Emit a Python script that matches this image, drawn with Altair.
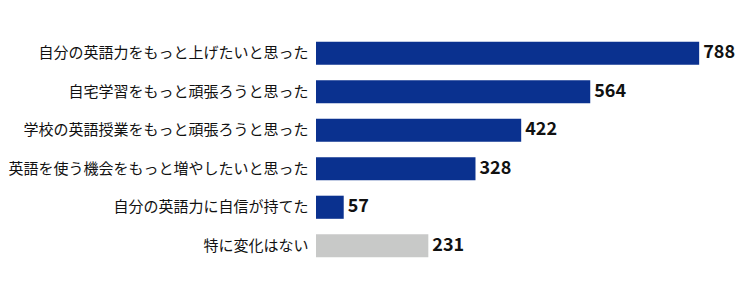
import altair as alt
import pandas as pd

categories = [
    "自分の英語力をもっと上げたいと思った",
    "自宅学習をもっと頑張ろうと思った",
    "学校の英語授業をもっと頑張ろうと思った",
    "英語を使う機会をもっと増やしたいと思った",
    "自分の英語力に自信が持てた",
    "特に変化はない",
]
values = [788, 564, 422, 328, 57, 231]
groups = ["変化", "変化", "変化", "変化", "変化", "なし"]

df = pd.DataFrame({"cat": categories, "val": values, "grp": groups})

y = alt.Y("cat:N", sort=categories, axis=alt.Axis(
    title=None, ticks=False, domain=False, labelFontSize=15,
    labelFont="Noto Sans CJK JP", labelColor="#111111", labelPadding=8,
    labelLimit=400),
    scale=alt.Scale(paddingInner=0.4, paddingOuter=0.2))
x = alt.X("val:Q", axis=None, scale=alt.Scale(domain=[0, 800], nice=False))

bars = alt.Chart(df).mark_bar().encode(
    x=x, y=y,
    color=alt.Color("grp:N", scale=alt.Scale(domain=["変化", "なし"], range=["#0a318f", "#c8c9c8"]), legend=None),
)
labels = alt.Chart(df).mark_text(align="left", dx=4, fontSize=18, fontWeight=600,
                                 font="Noto Sans CJK JP", color="#111111").encode(
    x=x, y=y, text="val:Q")

chart = (bars + labels).properties(
    width=389, height=231,
    padding={"left": 316, "top": 34, "right": 45, "bottom": 20},
    autosize=alt.AutoSizeParams(type="none"),
).configure_view(stroke=None)

chart.save("out.html", embed_options={"renderer": "svg", "actions": False})
